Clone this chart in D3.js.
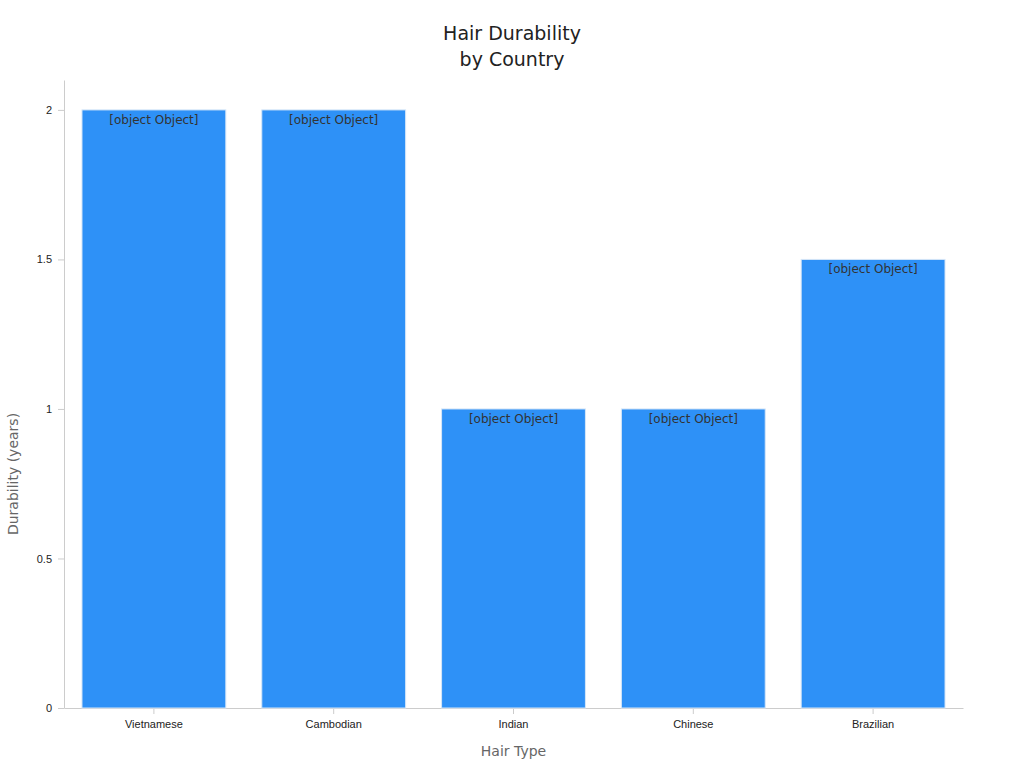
<!DOCTYPE html>
<html>
<head>
<meta charset="utf-8">
<script src="https://cdn.jsdelivr.net/npm/d3@7.9.0/dist/d3.min.js"></script>
<style>
  body { margin: 0; background: #fff; font-family: "DejaVu Sans", sans-serif; }
  .axis text { font-size: 11px; fill: #222; }
  .axis path, .axis line { stroke: #ccc; }
</style>
</head>
<body>
<svg id="chart" width="1024" height="768"></svg>
<script>
const hairTypes = ['Vietnamese', 'Cambodian', 'Indian', 'Chinese', 'Brazilian'];
const durability = [2, 2, 1, 1, 1.5];
const yTicks = [0, 0.5, 1, 1.5, 2];

const svg = d3.select('#chart');
const margin = { top: 80, right: 61, bottom: 60, left: 64 };
const width = 1024 - margin.left - margin.right;
const height = 768 - margin.top - margin.bottom;

const g = svg.append('g').attr('transform', `translate(${margin.left},${margin.top})`);

const x = d3.scaleBand().domain(hairTypes).range([0, width]).paddingInner(0.2).paddingOuter(0.1);
const y = d3.scaleLinear().domain([0, 2.1]).range([height, 0]);

// axes
g.append('g').attr('class', 'axis')
  .attr('transform', `translate(0,${height})`)
  .call(d3.axisBottom(x).tickSizeOuter(0).tickPadding(6));

g.append('g').attr('class', 'axis')
  .call(d3.axisLeft(y).tickValues(yTicks).tickFormat(d3.format('')).tickSizeOuter(0).tickPadding(6));

// bars
const data = hairTypes.map((name, i) => ({ name, value: durability[i] }));

g.selectAll('rect.bar').data(data).join('rect')
  .attr('class', 'bar')
  .attr('x', d => x(d.name))
  .attr('y', d => y(d.value))
  .attr('width', x.bandwidth())
  .attr('height', d => height - y(d.value))
  .attr('fill', '#2e91f7')
  .attr('stroke', '#d6e6f7')
  .attr('stroke-width', 1);

g.selectAll('text.val').data(data).join('text')
  .attr('class', 'val')
  .attr('x', d => x(d.name) + x.bandwidth() / 2)
  .attr('y', d => y(d.value) + 14)
  .attr('text-anchor', 'middle')
  .attr('font-size', 12)
  .attr('fill', '#333')
  .text(d => d);

// title
const title = svg.append('text')
  .attr('x', 512).attr('y', 40)
  .attr('text-anchor', 'middle')
  .attr('font-size', 19)
  .attr('fill', '#222');
title.append('tspan').attr('x', 512).text('Hair Durability');
title.append('tspan').attr('x', 512).attr('dy', 26).text('by Country');

// axis labels
svg.append('text')
  .attr('x', margin.left + width / 2).attr('y', 756)
  .attr('text-anchor', 'middle')
  .attr('font-size', 14).attr('fill', '#666')
  .text('Hair Type');

svg.append('text')
  .attr('transform', `translate(18,${margin.top + height / 2 + 80}) rotate(-90)`)
  .attr('text-anchor', 'middle')
  .attr('font-size', 14).attr('fill', '#666')
  .text('Durability (years)');
</script>
</body>
</html>
